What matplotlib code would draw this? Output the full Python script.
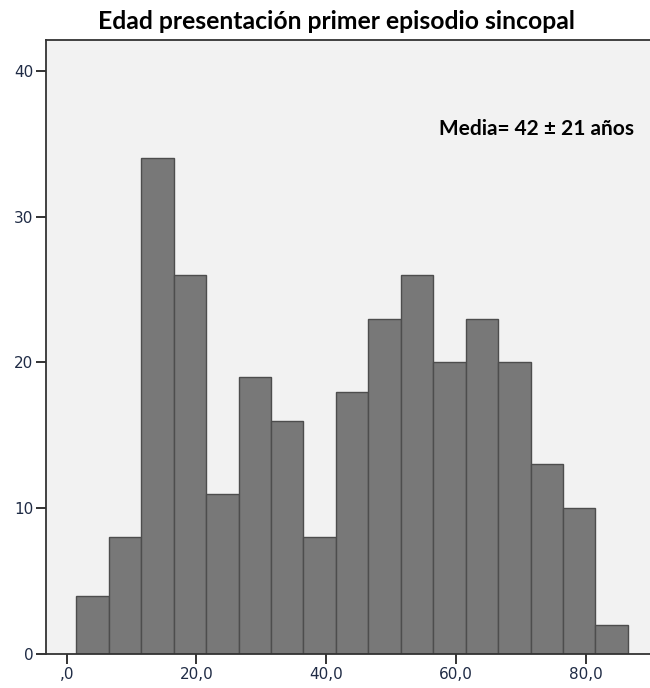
import matplotlib.pyplot as plt
import numpy as np

# histogram of age at first syncope episode (bins of 5 years)
bin_edges = [1.5, 6.5, 11.5, 16.5, 21.5, 26.5, 31.5, 36.5, 41.5, 46.5,
             51.5, 56.5, 61.5, 66.5, 71.5, 76.5, 81.5, 86.5]
counts = [4, 8, 34, 26, 11, 19, 16, 8, 18, 23, 26, 20, 23, 20, 13, 10, 2]
x_ticks = [0, 20, 40, 60, 80]
x_labels = [",0", "20,0", "40,0", "60,0", "80,0"]
y_ticks = [0, 10, 20, 30, 40]

title = "Edad presentación primer episodio sincopal"
note = "Media= 42 ± 21 años"

tick_color = "#1f2b45"
spine_color = "#333333"


def main():
    fig = plt.figure(figsize=(6.5, 6.88), dpi=100)
    ax = fig.add_axes([0.0708, 0.0494, 0.9292, 0.8924])
    ax.set_facecolor("#f2f2f2")

    lefts = np.array(bin_edges[:-1])
    widths = np.diff(bin_edges)
    ax.bar(lefts, counts, width=widths, align="edge", color="#787878",
           edgecolor="#4d4d4d", linewidth=1.0)

    ax.set_xlim(-3.18, 89.9)
    ax.set_ylim(0, 42.1)
    ax.set_xticks(x_ticks)
    ax.set_xticklabels(x_labels)
    ax.set_yticks(y_ticks)
    ax.tick_params(axis="both", length=7.2, width=1.4, color=spine_color,
                   labelsize=11, labelcolor=tick_color, pad=2)

    for side in ["left", "bottom", "top"]:
        ax.spines[side].set_color(spine_color)
        ax.spines[side].set_linewidth(1.3)
    ax.spines["right"].set_visible(False)

    fig.text(0.517, 0.9574, title, ha="center", va="baseline",
             family="Lato", weight="bold", fontsize=17.8)
    fig.text(0.975, 0.804, note, ha="right", va="baseline",
             family="Lato", weight="bold", fontsize=15)

    fig.savefig("out.png", dpi=100, facecolor="white")


if __name__ == "__main__":
    main()
